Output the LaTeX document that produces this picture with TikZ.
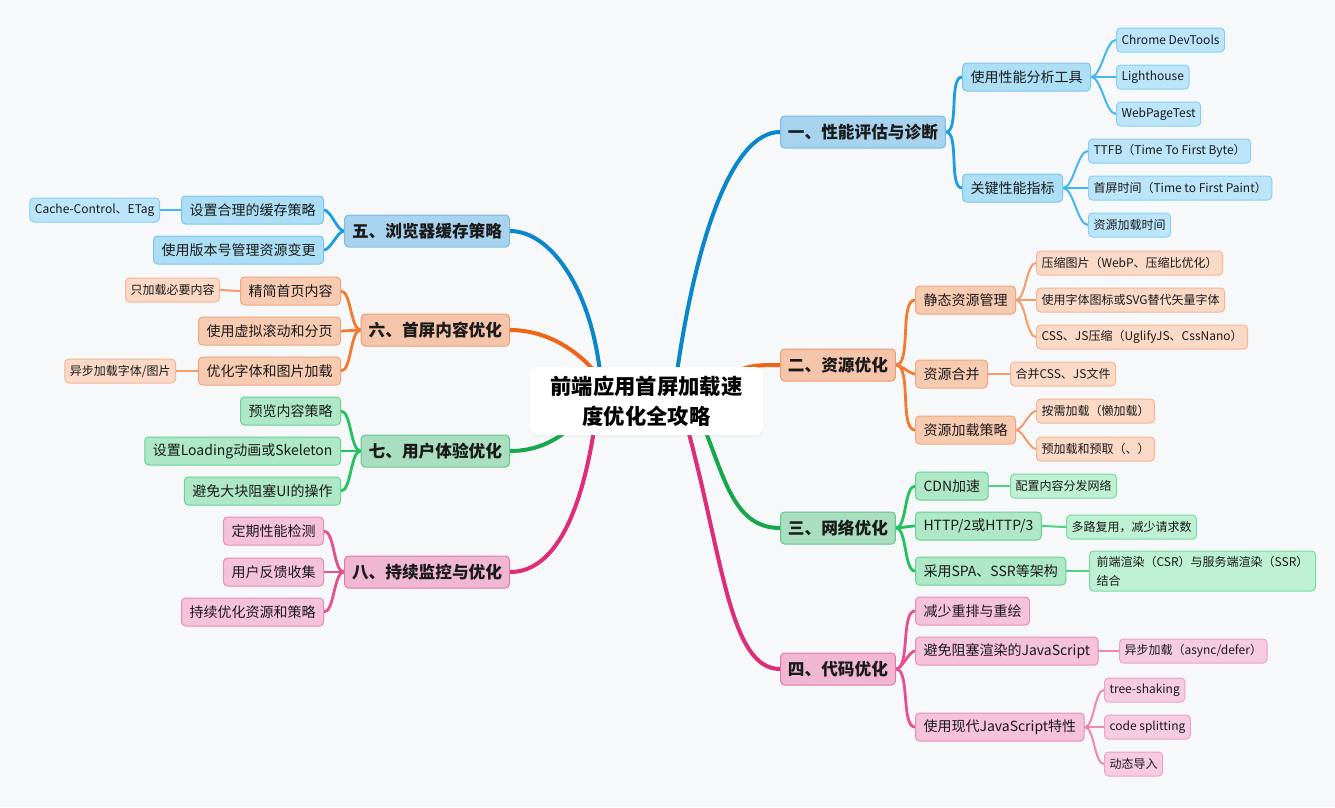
\documentclass[tikz,border=0pt]{standalone}
\usepackage{fontspec}
\setmainfont{Noto Sans CJK SC}
\usetikzlibrary{shadows}
\definecolor{bg}{HTML}{F7F8FA}
\definecolor{txt}{HTML}{1A1A1A}
% blue
\definecolor{bAf}{HTML}{A7D3EE}\definecolor{bAd}{HTML}{79BDE6}
\definecolor{bBf}{HTML}{ACDEF6}\definecolor{bBd}{HTML}{7CC6EE}
\definecolor{bCf}{HTML}{BCE5FA}\definecolor{bCd}{HTML}{88CFF4}
\definecolor{bL1}{HTML}{0A86CC}\definecolor{bL2}{HTML}{1A9FE6}\definecolor{bL3}{HTML}{45B6F0}
% orange
\definecolor{oAf}{HTML}{F5C5AB}\definecolor{oAd}{HTML}{EE9C70}
\definecolor{oBf}{HTML}{F7CBB2}\definecolor{oBd}{HTML}{F0A57C}
\definecolor{oCf}{HTML}{FAD9C7}\definecolor{oCd}{HTML}{F5B894}
\definecolor{oL1}{HTML}{EE6418}\definecolor{oL2}{HTML}{F37A2E}\definecolor{oL3}{HTML}{F59C6A}
% green
\definecolor{gAf}{HTML}{A9DFC0}\definecolor{gAd}{HTML}{62C78C}
\definecolor{gBf}{HTML}{AEE8C7}\definecolor{gBd}{HTML}{66D394}
\definecolor{gCf}{HTML}{BEF0D3}\definecolor{gCd}{HTML}{7ADCA2}
\definecolor{gL1}{HTML}{17A84C}\definecolor{gL2}{HTML}{22C35E}\definecolor{gL3}{HTML}{4FD487}
% pink
\definecolor{pAf}{HTML}{F0B7D2}\definecolor{pAd}{HTML}{E27AA5}
\definecolor{pBf}{HTML}{F4C2D9}\definecolor{pBd}{HTML}{E98DB4}
\definecolor{pCf}{HTML}{F6CDE0}\definecolor{pCd}{HTML}{EDA1C3}
\definecolor{pL1}{HTML}{DE2C78}\definecolor{pL2}{HTML}{E6508E}\definecolor{pL3}{HTML}{EE88B2}
\pgfdeclarelayer{bglayer}
\pgfsetlayers{bglayer,main}
\tikzset{
  nodebase/.style={rounded corners=3pt, line width=0.75pt, inner ysep=0pt, text=txt, align=left},
  lvA/.style={nodebase, minimum height=24pt, inner xsep=5.6pt, font=\fontsize{12.5}{15}\selectfont\bfseries},
  lvB/.style={nodebase, minimum height=21pt, inner xsep=6pt, font=\fontsize{10.5}{13}\selectfont},
  lvC/.style={nodebase, minimum height=18pt, inner xsep=3.75pt, font=\fontsize{9}{12}\selectfont},
  blueA/.style={lvA, fill=bAf, draw=bAd}, blueB/.style={lvB, fill=bBf, draw=bBd}, blueC/.style={lvC, fill=bCf, draw=bCd},
  orA/.style={lvA, fill=oAf, draw=oAd}, orB/.style={lvB, fill=oBf, draw=oBd}, orC/.style={lvC, fill=oCf, draw=oCd},
  grA/.style={lvA, fill=gAf, draw=gAd}, grB/.style={lvB, fill=gBf, draw=gBd}, grC/.style={lvC, fill=gCf, draw=gCd},
  piA/.style={lvA, fill=pAf, draw=pAd}, piB/.style={lvB, fill=pBf, draw=pBd}, piC/.style={lvC, fill=pCf, draw=pCd},
  lnA/.style={line width=3pt, line cap=round},
  lnB/.style={line width=2.1pt, line cap=round},
  lnC/.style={line width=1.5pt, line cap=round},
  brR/.style={out=0, in=180, looseness=0.6},
  brL/.style={out=180, in=0, looseness=0.6},
  R/.style={anchor=west}, L/.style={anchor=east},
  center/.style={rounded corners=6pt, fill=white, minimum width=175pt, minimum height=51pt,
    align=center, text=black, font=\fontsize{16}{22.5}\selectfont\bfseries,
    drop shadow={opacity=0.07, shadow xshift=0pt, shadow yshift=-1.5pt}}
}
\begin{document}
\begin{tikzpicture}[x=0.75pt,y=-0.75pt]
\begin{pgfonlayer}{bglayer}
\fill[bg] (0,0) rectangle (1335,807);
\end{pgfonlayer}
\useasboundingbox (0,0) rectangle (1335,807);

% center
\node[center] (c) at (646.5,401) {前端应用首屏加载速\\度优化全攻略};

% ---------- 1 blue right
\node[blueA,R] (n1) at (780,132) {一、性能评估与诊断};
\node[blueB,R] (n11) at (962,77) {使用性能分析工具};
\node[blueC,R] (n111) at (1116,40) {Chrome DevTools};
\node[blueC,R] (n112) at (1116,77) {Lighthouse};
\node[blueC,R] (n113) at (1116,114) {WebPageTest};
\node[blueB,R] (n12) at (962,188) {关键性能指标};
\node[blueC,R] (n121) at (1088,151) {TTFB（Time To First Byte）};
\node[blueC,R] (n122) at (1088,188) {首屏时间（Time to First Paint）};
\node[blueC,R] (n123) at (1088,225) {资源加载时间};

% ---------- 2 orange right
\node[orA,R] (n2) at (780,365) {二、资源优化};
\node[orB,R] (n21) at (915,300) {静态资源管理};
\node[orC,R] (n211) at (1036,263) {压缩图片（WebP、压缩比优化）};
\node[orC,R] (n212) at (1036,300) {使用字体图标或SVG替代矢量字体};
\node[orC,R] (n213) at (1036,337) {CSS、JS压缩（UglifyJS、CssNano）};
\node[orB,R] (n22) at (915,374) {资源合并};
\node[orC,R] (n221) at (1010,374) {合并CSS、JS文件};
\node[orB,R] (n23) at (915,430) {资源加载策略};
\node[orC,R] (n231) at (1036,411) {按需加载（懒加载）};
\node[orC,R] (n232) at (1036,449) {预加载和预取（、）};

% ---------- 3 green right
\node[grA,R] (n3) at (780,528) {三、网络优化};
\node[grB,R] (n31) at (915,486) {CDN加速};
\node[grC,R] (n311) at (1010,486) {配置内容分发网络};
\node[grB,R] (n32) at (915,526) {HTTP/2或HTTP/3};
\node[grC,R] (n321) at (1066,527) {多路复用，减少请求数};
\node[grB,R] (n33) at (915,571) {采用SPA、SSR等架构};
\node[grC,R,minimum height=30pt,minimum width=169.5pt,inner ysep=2pt,font=\fontsize{9}{14}\selectfont] (n331) at (1089,571) {前端渲染（CSR）与服务端渲染（SSR）\\结合};

% ---------- 4 pink right
\node[piA,R] (n4) at (780,669) {四、代码优化};
\node[piB,R] (n41) at (915,611) {减少重排与重绘};
\node[piB,R] (n42) at (915,651) {避免阻塞渲染的JavaScript};
\node[piC,R] (n421) at (1119,651) {异步加载（async/defer）};
\node[piB,R] (n43) at (915,727) {使用现代JavaScript特性};
\node[piC,R] (n431) at (1104,690) {tree-shaking};
\node[piC,R] (n432) at (1104,727) {code splitting};
\node[piC,R] (n433) at (1104,764) {动态导入};

% ---------- 5 blue left
\node[blueA,L] (n5) at (510,231) {五、浏览器缓存策略};
\node[blueB,L] (n51) at (324,210) {设置合理的缓存策略};
\node[blueC,L] (n511) at (160,210) {Cache-Control、ETag};
\node[blueB,L] (n52) at (324,250) {使用版本号管理资源变更};

% ---------- 6 orange left
\node[orA,L] (n6) at (510,330) {六、首屏内容优化};
\node[orB,L] (n61) at (341,291) {精简首页内容};
\node[orC,L] (n611) at (220,290) {只加载必要内容};
\node[orB,L] (n62) at (341,331) {使用虚拟滚动和分页};
\node[orB,L] (n63) at (341,371) {优化字体和图片加载};
\node[orC,L] (n631) at (176,371) {异步加载字体/图片};

% ---------- 7 green left
\node[grA,L] (n7) at (510,451) {七、用户体验优化};
\node[grB,L] (n71) at (341,411) {预览内容策略};
\node[grB,L] (n72) at (341,451) {设置Loading动画或Skeleton};
\node[grB,L] (n73) at (341,491) {避免大块阻塞UI的操作};

% ---------- 8 pink left
\node[piA,L] (n8) at (510,572) {八、持续监控与优化};
\node[piB,L] (n81) at (324,531) {定期性能检测};
\node[piB,L] (n82) at (324,572) {用户反馈收集};
\node[piB,L] (n83) at (324,612) {持续优化资源和策略};

% start points on the center node
\coordinate (s1) at (677,372);
\coordinate (s2) at (735,372);
\coordinate (s3) at (705,430);
\coordinate (s4) at (688,430);
\coordinate (s5) at (600,372);
\coordinate (s6) at (597,374);
\coordinate (s7) at (568,430);
\coordinate (s8) at (594,430);

\begin{pgfonlayer}{bglayer}
% main branches
\draw[lnA, bL1] (s1) .. controls +(18,-125) and +(-50,0) .. (n1.west);
\draw[lnA, oL1] (s2) .. controls +(15,-7) and +(-20,0) .. (n2.west);
\draw[lnA, gL1] (s3) .. controls +(20,50) and +(-45,0) .. (n3.west);
\draw[lnA, pL1] (s4) .. controls +(35,130) and +(-50,0) .. (n4.west);
\draw[lnA, bL1] (s5) .. controls +(-10,-85) and +(40,0) .. (n5.east);
\draw[lnA, oL1] (s6) .. controls +(-25,-30) and +(30,0) .. (n6.east);
\draw[lnA, gL1] (s7) .. controls +(-15,12) and +(25,0) .. (n7.east);
\draw[lnA, pL1] (s8) .. controls +(-15,95) and +(40,0) .. (n8.east);

% blue right
\draw[lnB, bL2] (n1.east) to[brR] (n11.west);
\draw[lnB, bL2] (n1.east) to[brR] (n12.west);
\draw[lnC, bL3] (n11.east) to[brR] (n111.west);
\draw[lnC, bL3] (n11.east) to[brR] (n112.west);
\draw[lnC, bL3] (n11.east) to[brR] (n113.west);
\draw[lnC, bL3] (n12.east) to[brR] (n121.west);
\draw[lnC, bL3] (n12.east) to[brR] (n122.west);
\draw[lnC, bL3] (n12.east) to[brR] (n123.west);
% orange right
\draw[lnB, oL2] (n2.east) to[brR] (n21.west);
\draw[lnB, oL2] (n2.east) to[brR] (n22.west);
\draw[lnB, oL2] (n2.east) to[brR] (n23.west);
\draw[lnC, oL3] (n21.east) to[brR] (n211.west);
\draw[lnC, oL3] (n21.east) to[brR] (n212.west);
\draw[lnC, oL3] (n21.east) to[brR] (n213.west);
\draw[lnC, oL3] (n22.east) to[brR] (n221.west);
\draw[lnC, oL3] (n23.east) to[brR] (n231.west);
\draw[lnC, oL3] (n23.east) to[brR] (n232.west);
% green right
\draw[lnB, gL2] (n3.east) to[brR] (n31.west);
\draw[lnB, gL2] (n3.east) to[brR] (n32.west);
\draw[lnB, gL2] (n3.east) to[brR] (n33.west);
\draw[lnC, gL3] (n31.east) to[brR] (n311.west);
\draw[lnC, gL3] (n32.east) to[brR] (n321.west);
\draw[lnC, gL3] (n33.east) to[brR] (n331.west);
% pink right
\draw[lnB, pL2] (n4.east) to[brR] (n41.west);
\draw[lnB, pL2] (n4.east) to[brR] (n42.west);
\draw[lnB, pL2] (n4.east) to[brR] (n43.west);
\draw[lnC, pL3] (n42.east) to[brR] (n421.west);
\draw[lnC, pL3] (n43.east) to[brR] (n431.west);
\draw[lnC, pL3] (n43.east) to[brR] (n432.west);
\draw[lnC, pL3] (n43.east) to[brR] (n433.west);
% blue left
\draw[lnB, bL2] (n5.west) to[brL] (n51.east);
\draw[lnB, bL2] (n5.west) to[brL] (n52.east);
\draw[lnC, bL3] (n51.west) to[brL] (n511.east);
% orange left
\draw[lnB, oL2] (n6.west) to[brL] (n61.east);
\draw[lnB, oL2] (n6.west) to[brL] (n62.east);
\draw[lnB, oL2] (n6.west) to[brL] (n63.east);
\draw[lnC, oL3] (n61.west) to[brL] (n611.east);
\draw[lnC, oL3] (n63.west) to[brL] (n631.east);
% green left
\draw[lnB, gL2] (n7.west) to[brL] (n71.east);
\draw[lnB, gL2] (n7.west) to[brL] (n72.east);
\draw[lnB, gL2] (n7.west) to[brL] (n73.east);
% pink left
\draw[lnB, pL2] (n8.west) to[brL] (n81.east);
\draw[lnB, pL2] (n8.west) to[brL] (n82.east);
\draw[lnB, pL2] (n8.west) to[brL] (n83.east);
\end{pgfonlayer}
\end{tikzpicture}
\end{document}
